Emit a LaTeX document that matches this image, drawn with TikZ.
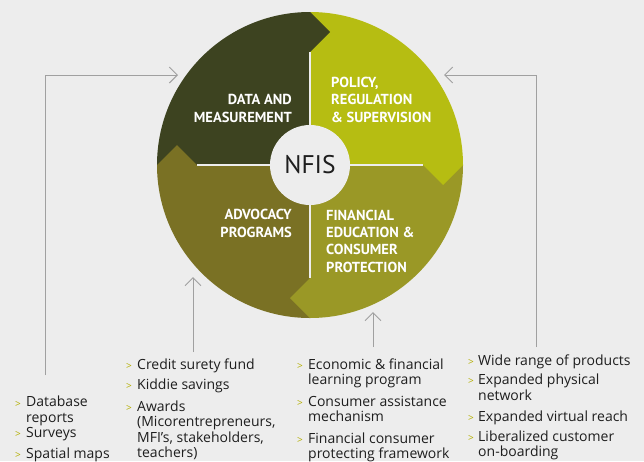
\documentclass[tikz,border=0pt]{standalone}
\usepackage{fontspec}
\setmainfont{Open Sans}
\newfontfamily\qfont{PT Sans}
\usetikzlibrary{arrows.meta}
\definecolor{bg}{HTML}{EDEDED}
\definecolor{qTL}{HTML}{3D4320}
\definecolor{qTR}{HTML}{B6BD12}
\definecolor{qBR}{HTML}{9A9826}
\definecolor{qBL}{HTML}{7A7124}
\definecolor{bul}{HTML}{B3AE00}
\definecolor{txt}{HTML}{1E1E1E}
\definecolor{con}{HTML}{A0A0A0}
\begin{document}
\begin{tikzpicture}[x=1pt,y=-1pt,
  qtext/.style={text=white,inner sep=0pt,font=\qfont\bfseries\fontsize{14.5}{17.3}\selectfont},
  item/.style={text=txt,inner sep=0pt,align=left,anchor=base west,font=\fontsize{14}{15.5}\selectfont},
  bullet/.style={text=bul,inner sep=0pt,anchor=base west,font=\fontsize{10}{12}\selectfont},
  conn/.style={con,line width=1pt,-{Straight Barb[length=8pt,width=16pt,line width=1pt]}}]
\fill[bg] (0,0) rectangle (644,461);
\useasboundingbox (0,0) rectangle (644,461);
\coordinate (c) at (310,165);
\begin{scope}
\clip (c) circle[radius=153pt];
\fill[qTL] (150,0) rectangle (310,165);
\fill[qTR] (310,0) rectangle (470,165);
\fill[qBR] (310,165) rectangle (470,330);
\fill[qBL] (150,165) rectangle (310,330);
\fill[qTL] (310,12) -- (330,32) -- (310,52) -- cycle;
\fill[qTR] (423,165) -- (443,185) -- (463,165) -- cycle;
\fill[qBR] (310,278) -- (290,298) -- (310,318) -- cycle;
\fill[qBL] (157,165) -- (177,145) -- (197,165) -- cycle;
\end{scope}
\draw[bg,line width=1.2pt] (310,52) -- (310,278);
\draw[bg,line width=1.2pt] (197,165) -- (423,165);
\node[circle,fill=bg,minimum size=80pt,inner sep=0pt,text=txt,font=\qfont\fontsize{25.5}{30}\selectfont] (nfis) at (c) {NFIS};
\node[qtext,align=right,anchor=base east] (dm) at (292,122) {DATA AND\\MEASUREMENT};
\node[qtext,align=left,anchor=base west] (prs) at (331,122) {POLICY,\\REGULATION\\\& SUPERVISION};
\node[qtext,align=right,anchor=base east] (ap) at (292,237) {ADVOCACY\\PROGRAMS};
\node[qtext,align=left,anchor=base west] (fe) at (326,272) {FINANCIAL\\EDUCATION \&\\CONSUMER\\PROTECTION};
% column 1
\node[bullet] (b11) at (15,407) {>};
\node[item] (i11) at (26,422) {Database\\reports};
\node[bullet] (b12) at (15,437) {>};
\node[item] (i12) at (26,437) {Surveys};
\node[bullet] (b13) at (15,458) {>};
\node[item] (i13) at (26,458) {Spatial maps};
% column 2
\node[bullet] (b21) at (126,369) {>};
\node[item] (i21) at (137,369) {Credit surety fund};
\node[bullet] (b22) at (126,389) {>};
\node[item] (i22) at (137,389) {Kiddie savings};
\node[bullet] (b23) at (126,411) {>};
\node[item] (i23) at (137,457.5) {Awards\\(Micorentrepreneurs,\\MFI’s, stakeholders,\\teachers)};
% column 3
\node[bullet] (b31) at (297,369) {>};
\node[item] (i31) at (308,384.5) {Economic \& financial\\learning program};
\node[bullet] (b32) at (297,406) {>};
\node[item] (i32) at (308,421.5) {Consumer assistance\\mechanism};
\node[bullet] (b33) at (297,443) {>};
\node[item] (i33) at (308,458.5) {Financial consumer\\protecting framework};
% column 4
\node[bullet] (b41) at (468,365) {>};
\node[item] (i41) at (478,365) {Wide range of products};
\node[bullet] (b42) at (468,384.5) {>};
\node[item] (i42) at (478,400) {Expanded physical\\network};
\node[bullet] (b43) at (468,421) {>};
\node[item] (i43) at (478,421) {Expanded virtual reach};
\node[bullet] (b44) at (468,441) {>};
\node[item] (i44) at (478,456.5) {Liberalized customer\\on-boarding};
% connectors
\coordinate (s1) at (45,375);
\coordinate (e1) at (178,75);
\coordinate (s2) at (193,352);
\coordinate (e2) at (193,277);
\coordinate (s3) at (373,347);
\coordinate (e3) at (373,312);
\coordinate (s4) at (536,347);
\coordinate (e4) at (444,75);
\draw[conn] (s1) |- (e1);
\draw[conn] (s2) -- (e2);
\draw[conn] (s3) -- (e3);
\draw[conn] (s4) |- (e4);
\end{tikzpicture}
\end{document}
